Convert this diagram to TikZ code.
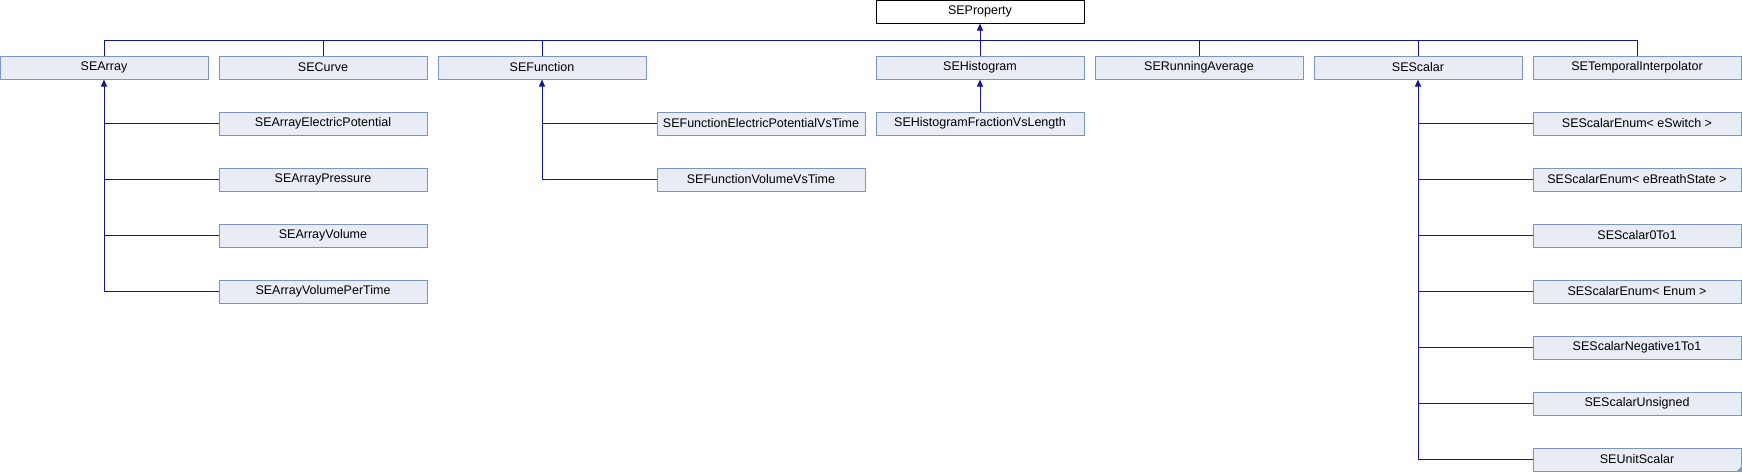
\documentclass[tikz,border=0pt]{standalone}
\usepackage{fontspec}
\setmainfont{Liberation Sans}
\usetikzlibrary{arrows.meta}
\definecolor{boxfill}{RGB}{232,236,245}
\definecolor{boxline}{RGB}{124,147,200}
\definecolor{edgecol}{RGB}{20,20,160}
\begin{document}
\begin{tikzpicture}[x=1pt,y=-1pt,
  cls/.style={draw=boxline,fill=boxfill,line width=1pt,minimum width=208pt,minimum height=23pt,inner sep=0pt,font=\fontsize{12.5}{15}\selectfont},
  rootcls/.style={cls,draw=black,fill=white},
  edg/.style={draw=edgecol,line width=1pt},
  inh/.style={edg,-{Triangle[width=6pt,length=7pt]}}]
\useasboundingbox (0,0) rectangle (1742,472);
% root
\node[rootcls] (prop) at (980,11.5) {SEProperty};
% first row
\node[cls] (arr)   at (104,67.5)  {SEArray};
\node[cls] (curve) at (323,67.5)  {SECurve};
\node[cls] (func)  at (542,67.5)  {SEFunction};
\node[cls] (hist)  at (980,67.5)  {SEHistogram};
\node[cls] (run)   at (1199,67.5) {SERunningAverage};
\node[cls] (scal)  at (1418,67.5) {SEScalar};
\node[cls] (temp)  at (1637,67.5) {SETemporalInterpolator};
% array children
\node[cls] (aep)  at (323,123.5) {SEArrayElectricPotential};
\node[cls] (ap)   at (323,179.5) {SEArrayPressure};
\node[cls] (av)   at (323,235.5) {SEArrayVolume};
\node[cls] (avpt) at (323,291.5) {SEArrayVolumePerTime};
% function children
\node[cls] (fep) at (761,123.5) {SEFunctionElectricPotentialVsTime};
\node[cls] (fv)  at (761,179.5) {SEFunctionVolumeVsTime};
% histogram child
\node[cls] (hf) at (980,123.5) {SEHistogramFractionVsLength};
% scalar children
\node[cls] (s1) at (1637,123.5) {SEScalarEnum< eSwitch >};
\node[cls] (s2) at (1637,179.5) {SEScalarEnum< eBreathState >};
\node[cls] (s3) at (1637,235.5) {SEScalar0To1};
\node[cls] (s4) at (1637,291.5) {SEScalarEnum< Enum >};
\node[cls] (s5) at (1637,347.5) {SEScalarNegative1To1};
\node[cls] (s6) at (1637,403.5) {SEScalarUnsigned};
\node[cls] (s7) at (1637,459.5) {SEUnitScalar};
\fill[boxline] (s7.south east) ++(-5,0) -- ++(5,0) -- ++(0,-5) -- cycle;
% bus to root
\coordinate (bus) at (0,40);
\draw[edg] (arr.north) |- (temp.north |- bus) -- (temp.north);
\draw[edg] (curve.north) -- (curve.north |- bus);
\draw[edg] (func.north) -- (func.north |- bus);
\draw[edg] (run.north) -- (run.north |- bus);
\draw[edg] (scal.north) -- (scal.north |- bus);
\draw[inh] (hist.north) -- (prop.south);
% array
\draw[inh] (arr.south |- avpt) -- (arr.south);
\foreach \c in {aep,ap,av,avpt} \draw[edg] (arr.south |- \c) -- (\c.west);
% function
\draw[inh] (func.south |- fv) -- (func.south);
\foreach \c in {fep,fv} \draw[edg] (func.south |- \c) -- (\c.west);
% histogram
\draw[inh] (hf.north) -- (hist.south);
% scalar
\draw[inh] (scal.south |- s7) -- (scal.south);
\foreach \c in {s1,s2,s3,s4,s5,s6,s7} \draw[edg] (scal.south |- \c) -- (\c.west);
\end{tikzpicture}
\end{document}
